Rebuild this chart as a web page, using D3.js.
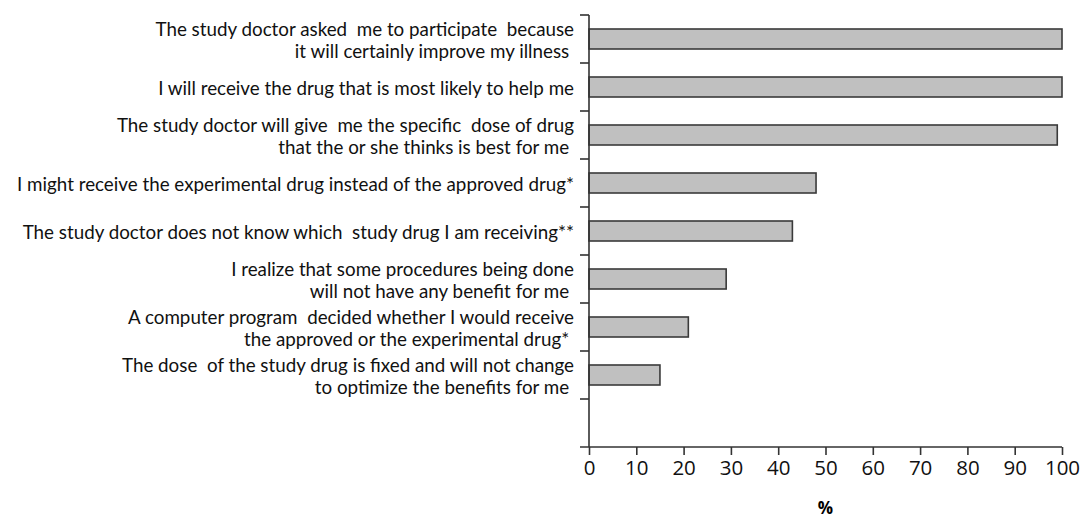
<!DOCTYPE html>
<html lang="en">
<head>
<meta charset="UTF-8">
<title>Chart</title>
<style>
  body { margin: 0; background: #fff; }
  svg { display: block; }
  .lbl { font-family: Lato, "Open Sans", sans-serif; font-size: 18.8px; fill: #111; }
  .tick text { font-family: "Open Sans", Lato, sans-serif; font-size: 20.5px; fill: #111; }
</style>
</head>
<body>
<svg width="1085" height="518"></svg>
<script src="https://d3js.org/d3.v7.min.js"></script>
<script>
// statements, each line of the label is an item
const statements = [
  ["The study doctor asked  me to participate  because", "it will certainly improve my illness "],
  ["I will receive the drug that is most likely to help me"],
  ["The study doctor will give  me the specific  dose of drug", "that the or she thinks is best for me "],
  ["I might receive the experimental drug instead of the approved drug*"],
  ["The study doctor does not know which  study drug I am receiving**"],
  ["I realize that some procedures being done", "will not have any benefit for me "],
  ["A computer program  decided whether I would receive", "the approved or the experimental drug* "],
  ["The dose  of the study drug is fixed and will not change", "to optimize the benefits for me "]
];
const percents = [100, 100, 99, 48, 43, 29, 21, 15];
const xTicks = [0, 10, 20, 30, 40, 50, 60, 70, 80, 90, 100];

const svg = d3.select("svg");
const mLeft = 589, mRight = 1062, mTop = 15, mBottom = 447;

// one empty slot at the bottom, like in the original
const slots = d3.range(statements.length + 1);

const x = d3.scaleLinear().domain([0, 100]).range([mLeft, mRight]);
const y = d3.scaleBand().domain(slots).range([mTop, mBottom]).paddingInner(0).paddingOuter(0);

const barH = 20;

svg.append("g")
  .selectAll("rect")
  .data(percents)
  .join("rect")
  .attr("x", x(0))
  .attr("y", (d, i) => y(i) + (y.bandwidth() - barH) / 2)
  .attr("width", d => x(d) - x(0))
  .attr("height", barH)
  .attr("fill", "#c0c0c0")
  .attr("stroke", "#3a3a3a")
  .attr("stroke-width", 1.6);

// y axis with ticks at band boundaries
const yEdges = d3.range(statements.length + 2).map(i => mTop + i * y.bandwidth());
svg.append("line")
  .attr("x1", mLeft).attr("x2", mLeft)
  .attr("y1", mTop).attr("y2", mBottom)
  .attr("stroke", "#333").attr("stroke-width", 1.6);
svg.append("g")
  .selectAll("line")
  .data(yEdges.slice(0, -1))
  .join("line")
  .attr("x1", mLeft - 9).attr("x2", mLeft)
  .attr("y1", d => d).attr("y2", d => d)
  .attr("stroke", "#333").attr("stroke-width", 1.6);

// x axis
const xAxis = svg.append("g")
  .attr("transform", `translate(0,${mBottom})`)
  .call(d3.axisBottom(x).tickValues(xTicks).tickSize(8).tickPadding(5).tickSizeOuter(0));
xAxis.select(".domain").attr("stroke", "#333").attr("stroke-width", 1.6)
  .attr("d", `M${mLeft - 9},0H${mRight}`);
xAxis.selectAll(".tick line").attr("stroke", "#333").attr("stroke-width", 1.6);

svg.append("text")
  .attr("x", x(50) + 0)
  .attr("y", 514)
  .attr("text-anchor", "middle")
  .attr("font-family", "Open Sans, sans-serif")
  .attr("font-weight", "bold")
  .attr("font-size", 17)
  .text("%");

// category labels
const lineH = 21.5;
const lbl = svg.append("g")
  .selectAll("text")
  .data(statements)
  .join("text")
  .attr("class", "lbl")
  .attr("text-anchor", "end")
  .attr("xml:space", "preserve")
  .attr("x", 574)
  .attr("y", (d, i) => y(i) + y.bandwidth() / 2 + 3 - (d.length - 1) * lineH / 2 + 5);
lbl.selectAll("tspan")
  .data(d => d)
  .join("tspan")
  .attr("x", 574)
  .attr("dy", (d, j) => j === 0 ? 0 : lineH)
  .text(d => d);
</script>
</body>
</html>
